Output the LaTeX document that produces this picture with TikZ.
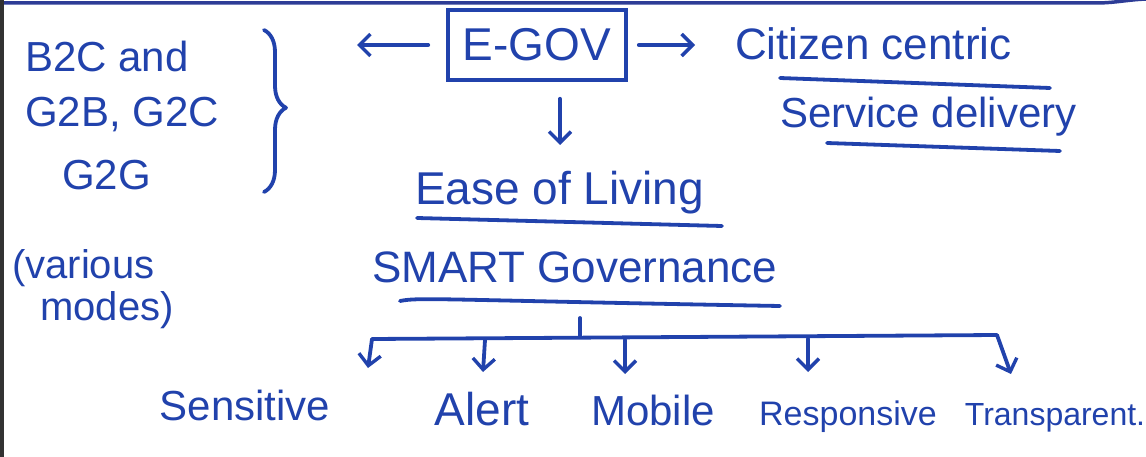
\documentclass[tikz,border=0pt]{standalone}
\usepackage{fontspec}
\setmainfont{Liberation Sans}
\usetikzlibrary{arrows.meta,decorations.pathreplacing}
\definecolor{ink}{RGB}{33,66,172}
\definecolor{rule}{RGB}{45,60,150}
\definecolor{edge}{RGB}{50,50,50}
\tikzset{
  pen/.style={draw=ink, line width=3.8pt, line cap=round, line join=round},
  arr/.style={pen, -{Straight Barb[length=11pt,width=22pt,line width=3.4pt]}},
  hw/.style={text=ink, inner sep=0pt, anchor=base},
  boxed/.style={draw=ink, line width=3.6pt, text=ink, minimum width=178pt, minimum height=70pt, inner sep=0pt},
}
\newcommand{\fs}[1]{\fontsize{#1}{#1}\selectfont}
\begin{document}
\begin{tikzpicture}[x=1pt,y=-1pt]
\useasboundingbox (0,0) rectangle (1146,457);
% page edges
\draw[draw=rule, line width=3.5pt] (0,3) -- (1095,3) .. controls (1115,3) and (1125,0) .. (1146,-1);
\draw[draw=edge, line width=4pt] (2,0) -- (2,457);

% left group
\node[hw, anchor=base west] (b2c) at (25,72) {\fs{42}B2C and};
\node[hw, anchor=base west] (g2b) at (25,127) {\fs{42}G2B, G2C};
\node[hw, anchor=base west] (g2g) at (62,190) {\fs{42}G2G};
\node[hw, anchor=base west] (var) at (12,278) {\fs{40}(various};
\node[hw, anchor=base west] (mod) at (40,320) {\fs{40}modes)};
\draw[pen, decorate, decoration={brace, amplitude=22pt, aspect=0.48}] (264,30) -- (264,192);
\coordinate (bracetip) at (357,45);

% E-GOV
\node[boxed] (egov) at (537,45) {\fs{46}E-GOV};

% right
\node[hw, anchor=base west] (cit) at (735,60) {\fs{44}Citizen centric};
\node[hw, anchor=base west] (ser) at (780,128) {\fs{42}Service delivery};
\draw[pen] (780,78) -- (1050,88);
\draw[pen] (827,143) -- (1060,151);

% arrows from E-GOV
\draw[arr, shorten <=18pt] (egov.west) -- (bracetip);
\draw[arr, shorten <=11pt, shorten >=40pt] (egov.east) -- (cit.west |- egov.east);
\node[hw, anchor=base west] (eol) at (415,205) {\fs{46}Ease of Living};
\draw[arr, shorten <=17pt] (egov.south -| 560,0) -- (560,145);
\draw[pen] (417,218) -- (722,226);

% SMART governance
\node[hw, anchor=base west] (smart) at (372,282) {\fs{44}SMART Governance};
\draw[pen] (400,301) .. controls (420,297) and (440,300) .. (780,306);
\coordinate (hub) at (580,318);
\coordinate (barL) at (372,339);
\coordinate (barR) at (997,335);
\draw[pen] (hub) -- (580,336);
\draw[pen] (barL) -- (barR);

% leaves
\node[hw] (sen) at (245,420) {\fs{42}Sensitive};
\node[hw] (ale) at (482,425) {\fs{46}Alert};
\node[hw] (mob) at (653,425) {\fs{42}Mobile};
\node[hw] (res) at (848,425) {\fs{34}Responsive};
\node[hw] (tra) at (1055,425) {\fs{32}Transparent.};

\draw[arr] (barL) -- (368,368);
\draw[arr] (485,340) -- (483,372);
\draw[arr] (625,340) -- (625,374);
\draw[arr] (808,339) -- (808,372);
\draw[arr] (barR) -- (1011,374);
\end{tikzpicture}
\end{document}
